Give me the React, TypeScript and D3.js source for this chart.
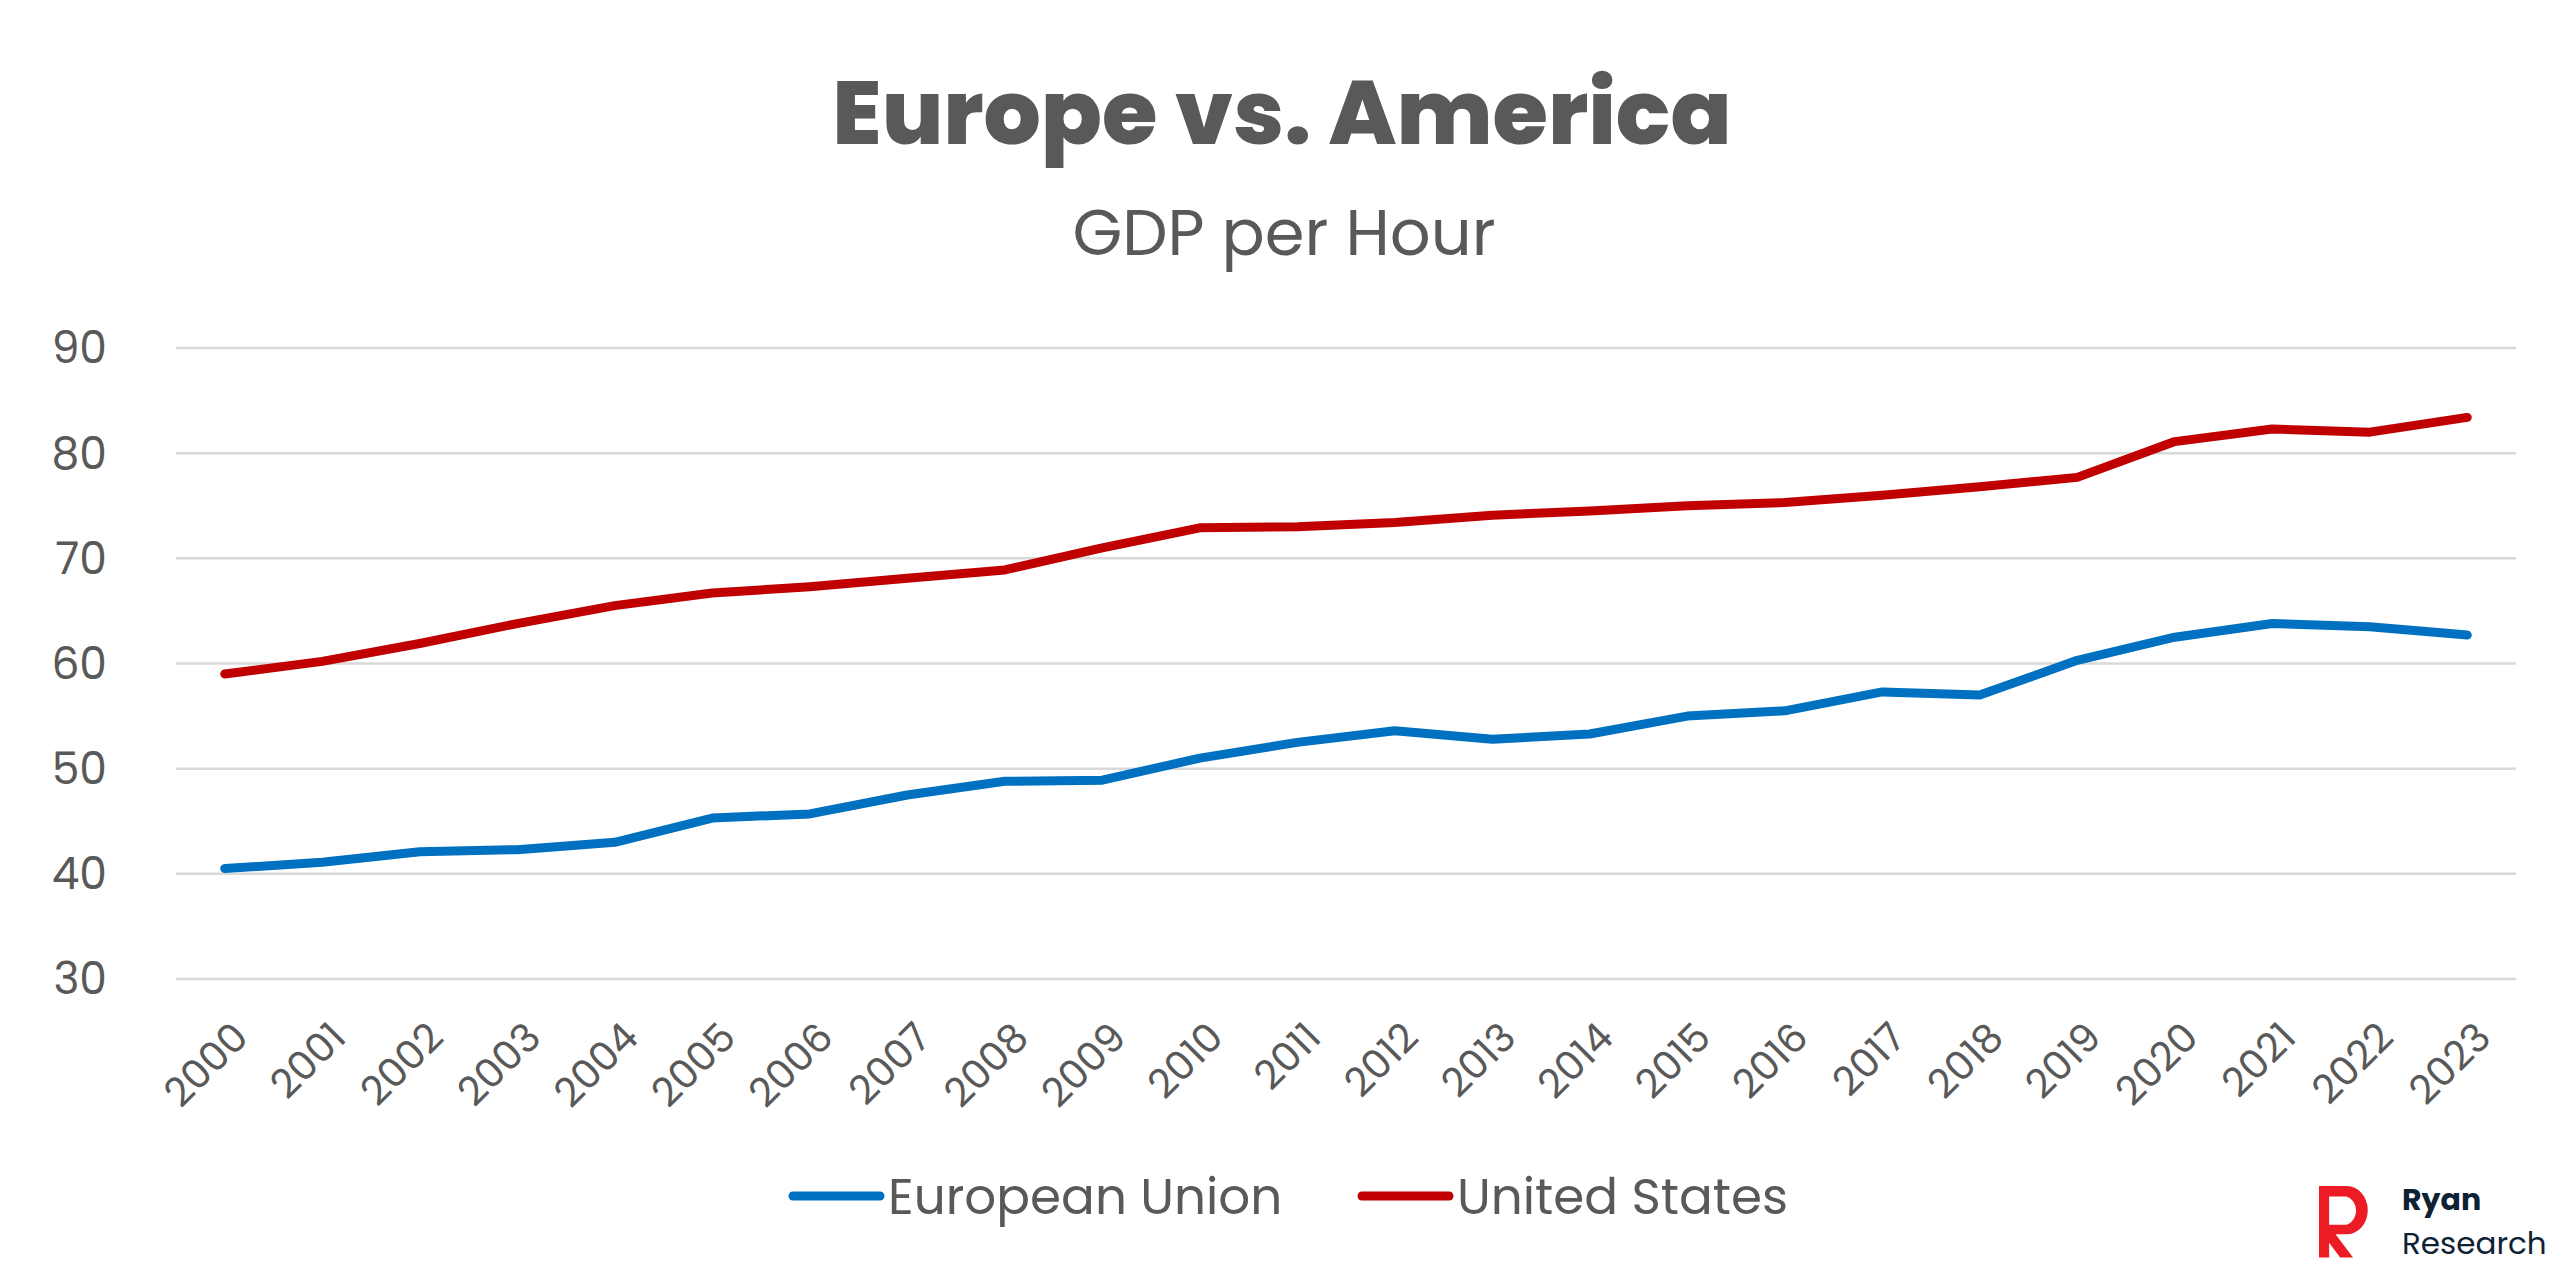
import React from 'react';
import * as d3 from 'd3';

const years = ['2000','2001','2002','2003','2004','2005','2006','2007','2008','2009','2010','2011','2012','2013','2014','2015','2016','2017','2018','2019','2020','2021','2022','2023'];
const euValues = [40.5,41.1,42.1,42.3,43.0,45.3,45.7,47.5,48.8,48.9,51.0,52.5,53.6,52.8,53.3,55.0,55.5,57.3,57.0,60.3,62.5,63.8,63.5,62.7];
const usValues = [59.0,60.2,61.9,63.8,65.5,66.7,67.3,68.1,68.9,71.0,72.9,73.0,73.4,74.1,74.5,75.0,75.3,76.0,76.8,77.7,81.1,82.3,82.0,83.4];
const yTicks = [30,40,50,60,70,80,90];

const W = 2571;
const H = 1283;
const font = 'Poppins, Inter, "Open Sans", sans-serif';
const textColor = '#595959';

const App: React.FC = () => {
  const x = d3.scaleBand<string>().domain(years).range([176, 2516]);
  const y = d3.scaleLinear().domain([30, 90]).range([979, 348]);
  const cx = (d: string) => (x(d) as number) + x.bandwidth() / 2;
  const line = d3.line<number>().x((_, i) => cx(years[i])).y(v => y(v));

  return (
    <svg width={W} height={H} style={{ position: 'absolute', left: 0, top: 0, background: '#fff' }}>
      <text x={1282} y={144} textAnchor="middle" fontFamily={font} fontWeight={800} fontSize={90} fill={textColor}>Europe vs. America</text>
      <text x={1284} y={255} textAnchor="middle" fontFamily={font} fontSize={64} fill={textColor}>GDP per Hour</text>

      {yTicks.map(t => (
        <g key={t}>
          <line x1={176} x2={2516} y1={y(t)} y2={y(t)} stroke="#d9d9d9" strokeWidth={2.5} />
          <text x={107} y={y(t)} dy="0.35em" textAnchor="end" fontFamily={font} fontSize={44} fill={textColor}>{t}</text>
        </g>
      ))}

      {years.map(yr => (
        <text key={yr} transform={`translate(${cx(yr) + 6},${1020}) rotate(-45)`} textAnchor="end" dy="0.7em" fontFamily={font} fontSize={40} fill={textColor}>{yr}</text>
      ))}

      <path d={line(euValues) as string} fill="none" stroke="#0070C0" strokeWidth={9} strokeLinecap="round" strokeLinejoin="round" />
      <path d={line(usValues) as string} fill="none" stroke="#C00000" strokeWidth={9} strokeLinecap="round" strokeLinejoin="round" />

      <line x1={793} x2={880} y1={1196} y2={1196} stroke="#0070C0" strokeWidth={9} strokeLinecap="round" />
      <text x={888} y={1196} dy="0.35em" fontFamily={font} fontSize={50} fill={textColor}>European Union</text>
      <line x1={1362} x2={1449} y1={1196} y2={1196} stroke="#C00000" strokeWidth={9} strokeLinecap="round" />
      <text x={1457} y={1196} dy="0.35em" fontFamily={font} fontSize={50} fill={textColor}>United States</text>

      <g transform="translate(2319,1186) scale(0.92,1.05)">
        <path d="M0,0 H30 A23,23 0 0 1 30,46 H18 L37,68 H23 L6,48 V37 H30 A14,14 0 0 0 30,10 H11 V68 H0 Z" fill="#ED1C24" />
      </g>
      <text x={2402} y={1210} fontFamily={font} fontWeight={700} fontSize={30} fill="#0f2233">Ryan</text>
      <text x={2402} y={1254} fontFamily={font} fontSize={31} fill="#0f2233">Research</text>
    </svg>
  );
};

export default App;
